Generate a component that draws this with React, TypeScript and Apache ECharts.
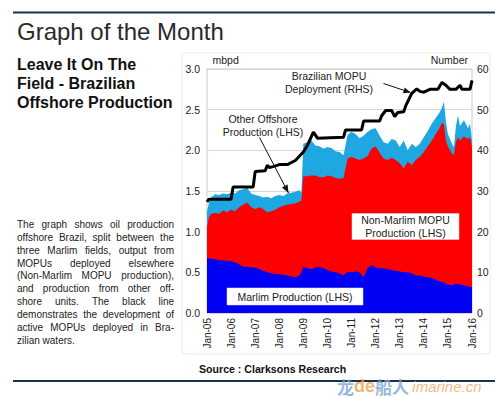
import React, { useEffect, useRef } from "react";
import * as echarts from "echarts";

// months since Jan-05
const areaMonths = [0, 1, 2, 4, 6, 8, 10, 12, 14, 16, 18, 20, 22, 24, 26, 28, 30, 32, 34, 36, 38, 40, 42, 44, 46, 47,
  48, 50, 52, 54, 56, 58, 60, 62, 64, 66, 68, 70, 72, 74, 76, 78, 80, 82, 84, 86, 88, 90, 92, 94, 96, 98, 100, 102,
  104, 106, 108, 110, 112, 114, 116, 117, 118, 119, 120, 122, 123, 124, 125, 126, 128, 130, 131, 132];
const marlim = [0.68, 0.67, 0.67, 0.66, 0.65, 0.65, 0.64, 0.64, 0.62, 0.6, 0.57, 0.57, 0.56, 0.56, 0.54, 0.52, 0.5,
  0.49, 0.48, 0.48, 0.47, 0.46, 0.45, 0.44, 0.46, 0.5, 0.57, 0.55, 0.54, 0.56, 0.57, 0.55, 0.53, 0.51, 0.5, 0.49,
  0.46, 0.51, 0.5, 0.51, 0.5, 0.44, 0.55, 0.59, 0.56, 0.55, 0.55, 0.54, 0.53, 0.52, 0.51, 0.5, 0.5, 0.49, 0.46,
  0.46, 0.45, 0.44, 0.43, 0.41, 0.39, 0.38, 0.38, 0.36, 0.35, 0.34, 0.35, 0.36, 0.36, 0.35, 0.34, 0.33, 0.32, 0.32];
const nonMarlim = [0.38, 0.51, 0.55, 0.57, 0.57, 0.61, 0.6, 0.63, 0.63, 0.7, 0.76, 0.79, 0.74, 0.72, 0.76, 0.76, 0.74,
  0.76, 0.79, 0.82, 0.85, 0.87, 0.89, 0.91, 0.91, 0.88, 1.11, 1.13, 1.15, 1.13, 1.1, 1.12, 1.16, 1.17, 1.16, 1.16,
  1.2, 1.39, 1.42, 1.39, 1.38, 1.46, 1.38, 1.43, 1.49, 1.42, 1.35, 1.34, 1.38, 1.36, 1.33, 1.28, 1.36, 1.33, 1.42,
  1.46, 1.53, 1.61, 1.69, 1.79, 1.89, 1.96, 1.94, 1.76, 1.7, 1.62, 1.59, 1.74, 1.8, 1.77, 1.83, 1.81, 1.84, 1.72];
const otherOffshore = [0.19, 0.18, 0.2, 0.23, 0.23, 0.21, 0.22, 0.21, 0.22, 0.21, 0.19, 0.18, 0.17, 0.17, 0.14, 0.14,
  0.19, 0.16, 0.17, 0.15, 0.12, 0.14, 0.14, 0.14, 0.14, 0.1, 0.4, 0.42, 0.43, 0.37, 0.38, 0.35, 0.35, 0.35, 0.33,
  0.33, 0.28, 0.29, 0.31, 0.3, 0.27, 0.28, 0.3, 0.24, 0.22, 0.21, 0.2, 0.2, 0.23, 0.24, 0.2, 0.34, 0.14, 0.26, 0.16,
  0.16, 0.18, 0.19, 0.21, 0.2, 0.19, 0.18, 0.28, 0.23, 0.15, 0.12, 0.1, 0.2, 0.27, 0.18, 0.2, 0.13, 0.17, 0.08];

const mopuMonths = [0, 1, 12, 13, 23, 24, 29, 30, 31, 33, 36, 40, 44, 48, 50, 53, 55, 68, 69, 77, 78, 86, 87, 89, 92,
  93.5, 95, 98, 99, 101, 102, 104.5, 106, 108, 111, 115, 117, 119, 121, 124, 126, 127, 131, 132];
const mopuCount = [27.3, 28, 28, 31, 31, 34.8, 35, 36.3, 35.8, 36, 36.5, 36.5, 37.5, 39.6, 41.2, 44.5, 43, 43.2, 45,
  45, 47.2, 47.2, 48.5, 49.8, 49.8, 48.3, 49.3, 49.5, 51, 53, 54, 55.1, 54.5, 54.3, 55, 55, 56.7, 56, 55, 55, 56, 55,
  55, 57.2];

const startYear = 5;
const noteLines = [
  "The graph shows oil production",
  "offshore Brazil, split between the",
  "three Marlim fields, output from",
  "MOPUs deployed elsewhere",
  "(Non-Marlim MOPU production),",
  "and production from other off-",
  "shore units. The black line",
  "demonstrates the development of",
  "active MOPUs deployed in Bra-",
  "zilian waters.",
];

const FONT = '"Liberation Sans", Arial, Helvetica, sans-serif';
const TXT = "#222";

function arrowHead(x1: number, y1: number, x2: number, y2: number, len: number, half: number) {
  const a = Math.atan2(y2 - y1, x2 - x1);
  const bx = x2 - len * Math.cos(a);
  const by = y2 - len * Math.sin(a);
  const px = -Math.sin(a) * half;
  const py = Math.cos(a) * half;
  return [[x2, y2], [bx + px, by + py], [bx - px, by - py]];
}

function txt(x: number, y: number, text: string, extra: any = {}) {
  return {
    type: "text",
    x,
    y,
    z: 20,
    style: {
      text,
      fill: TXT,
      fontFamily: FONT,
      fontSize: 10.5,
      textAlign: "left",
      textVerticalAlign: "middle",
      ...extra,
    },
  };
}

export default function App() {
  const ref = useRef<HTMLDivElement>(null);
  useEffect(() => {
    document.body.style.margin = "0";
    const chart = echarts.init(ref.current!, null, { renderer: "svg" });

    const mData = areaMonths.map((x, i) => [x, marlim[i]]);
    const rData = areaMonths.map((x, i) => [x, +(marlim[i] + nonMarlim[i]).toFixed(3)]);
    const tData = areaMonths.map((x, i) => [x, +(marlim[i] + nonMarlim[i] + otherOffshore[i]).toFixed(3)]);
    const mopuData = mopuMonths.map((x, i) => [x, mopuCount[i]]);

    // justified paragraph
    const ctx = document.createElement("canvas").getContext("2d")!;
    ctx.font = `10px ${FONT}`;
    const para: any[] = [];
    const pLeft = 17;
    const pWidth = 157;
    noteLines.forEach((line, i) => {
      const y = 224.5 + i * 12.84;
      const words = line.split(" ");
      if (i === noteLines.length - 1 || words.length === 1) {
        para.push(txt(pLeft, y, line, { fontSize: 10 }));
      } else {
        const widths = words.map((w) => ctx.measureText(w).width);
        const sum = widths.reduce((s, w) => s + w, 0);
        const gap = (pWidth - sum) / (words.length - 1);
        let x = pLeft;
        words.forEach((w, k) => {
          para.push(txt(x, y, w, { fontSize: 10 }));
          x += widths[k] + gap;
        });
      }
    });

    const a1 = [383.5, 83.5, 410.5, 92.5];
    const a2 = [259.5, 137.5, 288.5, 193];

    const graphic: any[] = [
      { type: "line", shape: { x1: 13, y1: 12.5, x2: 495, y2: 12.5 }, style: { stroke: "#1d2f50", lineWidth: 2 } },
      { type: "line", shape: { x1: 13, y1: 381, x2: 495, y2: 381 }, style: { stroke: "#1d2f50", lineWidth: 2 } },
      {
        type: "rect",
        shape: { x: 182, y: 53, width: 308, height: 301, r: 4 },
        style: { fill: "none", stroke: "#ececec", lineWidth: 1 },
        z: 0,
      },
      txt(17, 31.5, "Graph of the Month", { fontSize: 24, fill: "#2a2a2a" }),
      txt(17, 64, "Leave It On The", { fontSize: 16, fontWeight: "bold", fill: "#111" }),
      txt(17, 83, "Field - Brazilian", { fontSize: 16, fontWeight: "bold", fill: "#111" }),
      txt(17, 102, "Offshore Production", { fontSize: 16, fontWeight: "bold", fill: "#111" }),
      ...para,
      txt(212.5, 60, "mbpd", { fontSize: 10.5 }),
      txt(468, 60, "Number", { fontSize: 10.5, textAlign: "right" }),
      txt(329, 82.5, "Brazilian MOPU\nDeployment (RHS)", { textAlign: "center", lineHeight: 13.3 }),
      txt(263, 125.5, "Other Offshore\nProduction (LHS)", { textAlign: "center", lineHeight: 13 }),
      { type: "line", z: 20, shape: { x1: a1[0], y1: a1[1], x2: a1[2], y2: a1[3] }, style: { stroke: "#111", lineWidth: 1 } },
      { type: "polygon", z: 20, shape: { points: arrowHead(a1[0], a1[1], a1[2], a1[3], 7, 3) }, style: { fill: "#111" } },
      { type: "line", z: 20, shape: { x1: a2[0], y1: a2[1], x2: a2[2], y2: a2[3] }, style: { stroke: "#111", lineWidth: 1 } },
      { type: "polygon", z: 20, shape: { points: arrowHead(a2[0], a2[1], a2[2], a2[3], 8, 3.2) }, style: { fill: "#111" } },
      {
        type: "rect",
        z: 19,
        shape: { x: 352, y: 213.5, width: 107, height: 26 },
        style: { fill: "#fff", stroke: "#ddd", lineWidth: 0.5 },
      },
      txt(405.5, 226.5, "Non-Marlim MOPU\nProduction (LHS)", { textAlign: "center", lineHeight: 12.7 }),
      {
        type: "rect",
        z: 19,
        shape: { x: 227, y: 288, width: 136, height: 17 },
        style: { fill: "#fff", stroke: "#ddd", lineWidth: 0.5 },
      },
      txt(295, 296.5, "Marlim Production (LHS)", { textAlign: "center" }),
      txt(199, 369, "Source : Clarksons Research", { fontSize: 10.6, fontWeight: "bold", fill: "#111" }),
      {
        type: "text",
        x: 337,
        y: 386,
        z: 30,
        style: {
          text: "{a|龙}{b|de}{a|船人} {c|imarine.cn}",
          textVerticalAlign: "middle",
          opacity: 0.8,
          rich: {
            a: { fontFamily: '"Noto Sans CJK SC"', fontSize: 17, fontWeight: "bold", fill: "#7aa6d8", color: "#7aa6d8" },
            b: { fontFamily: FONT, fontSize: 18, fontWeight: "bold", fill: "#f4a04c", color: "#f4a04c" },
            c: { fontFamily: FONT, fontSize: 15, fontStyle: "italic", fill: "#f2a862", color: "#f2a862" },
          },
        },
      },
    ];

    const option: any = {
      animation: false,
      backgroundColor: "#fff",
      textStyle: { fontFamily: FONT },
      grid: { left: 207, right: 23, top: 69, bottom: 84, show: true, borderColor: "#c9c9c9", borderWidth: 1 },
      xAxis: {
        type: "value",
        min: 0,
        max: 132,
        interval: 12,
        axisLine: { show: false },
        axisTick: { show: false },
        splitLine: { show: false },
        axisLabel: {
          rotate: 90,
          margin: 5,
          fontSize: 10,
          color: TXT,
          fontFamily: FONT,
          formatter: (v: number) => "Jan-" + String(startYear + v / 12).padStart(2, "0"),
        },
      },
      yAxis: [
        {
          type: "value",
          min: 0,
          max: 3,
          interval: 0.5,
          axisLine: { show: false },
          axisTick: { show: false },
          splitLine: { show: true, lineStyle: { color: "#d6d6d6", width: 1 } },
          axisLabel: { margin: 7, fontSize: 10.5, color: TXT, fontFamily: FONT, formatter: (v: number) => v.toFixed(1) },
        },
        {
          type: "value",
          min: 0,
          max: 60,
          interval: 10,
          position: "right",
          axisLine: { show: false },
          axisTick: { show: false },
          splitLine: { show: false },
          axisLabel: { margin: 5, fontSize: 10.5, color: TXT, fontFamily: FONT },
        },
      ],
      series: [
        {
          name: "Other Offshore Production",
          type: "line",
          data: tData,
          symbol: "none",
          color: "#1ea7e1",
          lineStyle: { width: 0 },
          areaStyle: { color: "#1ea7e1", opacity: 1 },
          z: 1,
        },
        {
          name: "Non-Marlim MOPU Production",
          type: "line",
          data: rData,
          symbol: "none",
          color: "#ff0000",
          lineStyle: { width: 0 },
          areaStyle: { color: "#ff0000", opacity: 1 },
          z: 2,
        },
        {
          name: "Marlim Production",
          type: "line",
          data: mData,
          symbol: "none",
          color: "#0000ff",
          lineStyle: { width: 0 },
          areaStyle: { color: "#0000f5", opacity: 1 },
          z: 3,
        },
        {
          name: "Brazilian MOPU Deployment",
          type: "line",
          yAxisIndex: 1,
          data: mopuData,
          symbol: "none",
          color: "#000",
          lineStyle: { color: "#000", width: 3 },
          z: 5,
        },
      ],
      graphic,
    };
    chart.setOption(option);
    return () => chart.dispose();
  }, []);
  return (
    <div
      ref={ref}
      style={{ position: "absolute", left: 0, top: 0, width: 495, height: 397, background: "#fff" }}
    />
  );
}
